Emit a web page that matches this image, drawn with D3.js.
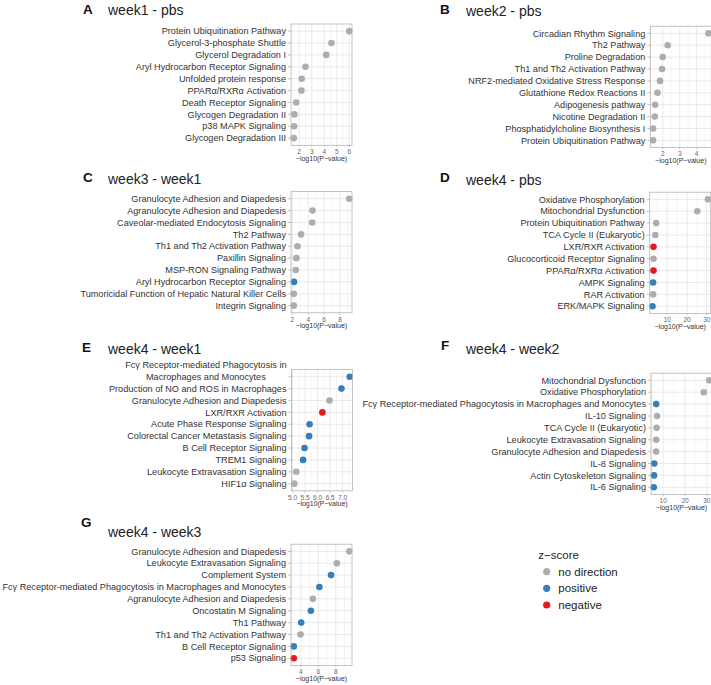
<!DOCTYPE html>
<html><head><meta charset="utf-8">
<script src="https://cdn.jsdelivr.net/npm/d3@7"></script>
<style>
body{margin:0;background:#fff;}
svg{font-family:"Liberation Sans",Arial,Helvetica,sans-serif;}
</style></head>
<body><svg id="chart" width="711" height="685"></svg>
<script>
// ---------- data ----------
const termsA = ["Protein Ubiquitination Pathway","Glycerol-3-phosphate Shuttle","Glycerol Degradation I","Aryl Hydrocarbon Receptor Signaling","Unfolded protein response","PPARα/RXRα Activation","Death Receptor Signaling","Glycogen Degradation II","p38 MAPK Signaling","Glycogen Degradation III"];
const logpA  = [5.99,4.57,4.16,2.5,2.2,2.18,1.76,1.62,1.6,1.57];
const zA     = ["none","none","none","none","none","none","none","none","none","none"];
const ticksA = ["2","3","4","5","6"];

const termsB = ["Circadian Rhythm Signaling","Th2 Pathway","Proline Degradation","Th1 and Th2 Activation Pathway","NRF2-mediated Oxidative Stress Response","Glutathione Redox Reactions II","Adipogenesis pathway","Nicotine Degradation II","Phosphatidylcholine Biosynthesis I","Protein Ubiquitination Pathway"];
const logpB  = [4.7,2.29,2.0,1.96,1.84,1.69,1.55,1.53,1.43,1.43];
const zB     = ["none","none","none","none","none","none","none","none","none","none"];
const ticksB = ["2","3","4"];

const termsC = ["Granulocyte Adhesion and Diapedesis","Agranulocyte Adhesion and Diapedesis","Caveolar-mediated Endocytosis Signaling","Th2 Pathway","Th1 and Th2 Activation Pathway","Paxillin Signaling","MSP-RON Signaling Pathway","Aryl Hydrocarbon Receptor Signaling","Tumoricidal Function of Hepatic Natural Killer Cells","Integrin Signaling"];
const logpC  = [9.17,4.53,4.5,3.09,2.63,2.5,2.42,2.2,2.17,2.17];
const zC     = ["none","none","none","none","none","none","none","positive","none","none"];
const ticksC = ["2","4","6","8"];

const termsD = ["Oxidative Phosphorylation","Mitochondrial Dysfunction","Protein Ubiquitination Pathway","TCA Cycle II (Eukaryotic)","LXR/RXR Activation","Glucocorticoid Receptor Signaling","PPARα/RXRα Activation","AMPK Signaling","RAR Activation","ERK/MAPK Signaling"];
const logpD  = [30.6,25.2,4.4,3.9,3.0,3.0,3.0,2.8,2.8,2.5];
const zD     = ["none","none","none","none","negative","none","negative","positive","none","positive"];
const ticksD = ["10","20","30"];

const termsE = ["Fcγ Receptor-mediated Phagocytosis in\nMacrophages and Monocytes","Production of NO and ROS in Macrophages","Granulocyte Adhesion and Diapedesis","LXR/RXR Activation","Acute Phase Response Signaling","Colorectal Cancer Metastasis Signaling","B Cell Receptor Signaling","TREM1 Signaling","Leukocyte Extravasation Signaling","HIF1α Signaling"];
const logpE  = [7.28,6.95,6.47,6.19,5.68,5.66,5.48,5.42,5.15,5.07];
const zE     = ["positive","positive","none","negative","positive","positive","positive","positive","none","none"];
const ticksE = ["5.0","5.5","6.0","6.5","7.0"];

const termsF = ["Mitochondrial Dysfunction","Oxidative Phosphorylation","Fcγ Receptor-mediated Phagocytosis in Macrophages and Monocytes","IL-10 Signaling","TCA Cycle II (Eukaryotic)","Leukocyte Extravasation Signaling","Granulocyte Adhesion and Diapedesis","IL-8 Signaling","Actin Cytoskeleton Signaling","IL-6 Signaling"];
const logpF  = [31.1,28.6,6.8,7.2,7.0,6.8,6.8,5.9,5.8,5.7];
const zF     = ["none","none","positive","none","none","none","none","positive","positive","positive"];
const ticksF = ["10","20","30"];

const termsG = ["Granulocyte Adhesion and Diapedesis","Leukocyte Extravasation Signaling","Complement System","Fcγ Receptor-mediated Phagocytosis in Macrophages and Monocytes","Agranulocyte Adhesion and Diapedesis","Oncostatin M Signaling","Th1 Pathway","Th1 and Th2 Activation Pathway","B Cell Receptor Signaling","p53 Signaling"];
const logpG  = [9.54,8.12,7.46,6.12,5.38,5.15,4.04,3.96,3.19,3.19];
const zG     = ["none","none","positive","positive","none","positive","positive","none","positive","negative"];
const ticksG = ["4","6","8"];

const panelLetters = ["A","B","C","D","E","F","G"];
const panelTitles  = ["week1 - pbs","week2 - pbs","week3 - week1","week4 - pbs","week4 - week1","week4 - week2","week4 - week3"];
const zKeys   = ["none","positive","negative"];
const zLabels = ["no direction","positive","negative"];
const xTitle  = "−log10(P−value)";
const legendTitle = "z−score";

// ---------- layout / style ----------
const colors = {none:"#ADADAD", positive:"#377EB8", negative:"#E41A1C"};
const layout = [
  {x0:291,   y0:24,    y1:145.3, lx:83,  ly:14,    tx:108, ty:15},
  {x0:650.3, y0:26.2,  y1:147.5, lx:440, ly:13.5,  tx:466, ty:15.7},
  {x0:291,   y0:191.6, y1:312.8, lx:83,  ly:181.7, tx:108, ty:184},
  {x0:649.7, y0:192.2, y1:313.4, lx:440, ly:182.3, tx:466, ty:185},
  {x0:291.5, y0:369.6, y1:490.8, lx:82,  ly:351.7, tx:108, ty:354},
  {x0:651,   y0:373.2, y1:494.4, lx:441, ly:350,   tx:466, ty:354},
  {x0:291,   y0:544.2, y1:665.4, lx:81,  ly:526.7, tx:108, ty:536.7}
];
const panels = [
  {terms:termsA, logp:logpA, z:zA, ticks:ticksA},
  {terms:termsB, logp:logpB, z:zB, ticks:ticksB},
  {terms:termsC, logp:logpC, z:zC, ticks:ticksC},
  {terms:termsD, logp:logpD, z:zD, ticks:ticksD},
  {terms:termsE, logp:logpE, z:zE, ticks:ticksE},
  {terms:termsF, logp:logpF, z:zF, ticks:ticksF},
  {terms:termsG, logp:logpG, z:zG, ticks:ticksG}
];
const PW = 61;

const svg = d3.select("#chart");

panels.forEach((p, i) => {
  const L = layout[i];
  const mn = d3.min(p.logp), mx = d3.max(p.logp), R = mx - mn;
  const dom = [mn - 0.05*R, mx + 0.05*R];
  const x = d3.scaleLinear().domain(dom).range([L.x0, L.x0 + PW]);
  const yBand = d3.scalePoint().domain(p.terms.map((t,k)=>k)).range([L.y0, L.y1]).padding(0.6);
  const g = svg.append("g");
  const tickVals = p.ticks.map(Number);
  const step = tickVals.length > 1 ? tickVals[1]-tickVals[0] : 1;
  const minor = [];
  for (let v = tickVals[0] - step/2 - step*10; v <= dom[1]; v += step) {
    if (v >= dom[0] && v <= dom[1]) minor.push(v);
  }
  g.append("rect").attr("x",L.x0).attr("y",L.y0).attr("width",PW).attr("height",L.y1-L.y0).attr("fill","#fff");
  g.selectAll(".mn").data(minor).enter().append("line")
    .attr("x1",d=>x(d)).attr("x2",d=>x(d)).attr("y1",L.y0).attr("y2",L.y1)
    .attr("stroke","#EBEBEB").attr("stroke-width",0.45);
  g.selectAll(".mj").data(tickVals).enter().append("line")
    .attr("x1",d=>x(d)).attr("x2",d=>x(d)).attr("y1",L.y0).attr("y2",L.y1)
    .attr("stroke","#DEDEDE").attr("stroke-width",0.65);
  g.selectAll(".gy").data(p.terms.map((t,k)=>k)).enter().append("line")
    .attr("x1",L.x0).attr("x2",L.x0+PW).attr("y1",d=>yBand(d)).attr("y2",d=>yBand(d))
    .attr("stroke","#DEDEDE").attr("stroke-width",0.65);
  g.selectAll("circle").data(p.logp).enter().append("circle")
    .attr("cx",d=>x(d)).attr("cy",(d,k)=>yBand(k)).attr("r",3.3)
    .attr("fill",(d,k)=>colors[p.z[k]]);
  g.append("rect").attr("x",L.x0).attr("y",L.y0).attr("width",PW).attr("height",L.y1-L.y0)
    .attr("fill","none").attr("stroke","#B3B3B3").attr("stroke-width",0.8);
  p.terms.forEach((t,k)=>{
    const yy = yBand(k);
    g.append("line").attr("x1",L.x0-3).attr("x2",L.x0).attr("y1",yy).attr("y2",yy)
      .attr("stroke","#A8A8A8").attr("stroke-width",0.7);
    const lines = t.split("\n");
    if (lines.length === 1) {
      g.append("text").attr("x",L.x0-5).attr("y",yy).attr("dy","0.35em")
        .attr("text-anchor","end").attr("font-size",9.15).attr("fill","#333").text(t);
    } else {
      const t1 = g.append("text").attr("x",L.x0-5).attr("y",yy-12).attr("dy","0.35em")
        .attr("text-anchor","end").attr("font-size",9.15).attr("fill","#333").text(lines[0]);
      const w = t1.node().getComputedTextLength();
      g.append("text").attr("x",L.x0-5-w/2).attr("y",yy).attr("dy","0.35em")
        .attr("text-anchor","middle").attr("font-size",9.15).attr("fill","#333").text(lines[1]);
    }
  });
  p.ticks.forEach((lab)=>{
    const v = Number(lab);
    g.append("line").attr("x1",x(v)).attr("x2",x(v)).attr("y1",L.y1).attr("y2",L.y1+2)
      .attr("stroke","#A8A8A8").attr("stroke-width",0.6);
    g.append("text").attr("x",x(v)).attr("y",L.y1+6.7).attr("dy","0.35em")
      .attr("text-anchor","middle").attr("font-size",6.5).attr("fill","#666").text(lab);
  });
  g.append("text").attr("x",L.x0+PW/2).attr("y",L.y1+12.8).attr("dy","0.35em")
    .attr("text-anchor","middle").attr("font-size",7).attr("fill","#333").text(xTitle);
  g.append("text").attr("x",L.lx).attr("y",L.ly).attr("font-size",13.5).attr("font-weight","bold")
    .attr("fill","#111").text(panelLetters[i]);
  g.append("text").attr("x",L.tx).attr("y",L.ty).attr("font-size",14).attr("fill","#222").text(panelTitles[i]);
});

// legend
const lg = svg.append("g");
lg.append("text").attr("x",538.3).attr("y",559).attr("font-size",11.5).attr("fill","#222").text(legendTitle);
zKeys.forEach((k,j)=>{
  const yy = 571.7 + j*16.65;
  lg.append("circle").attr("cx",546.7).attr("cy",yy).attr("r",3.6).attr("fill",colors[k]);
  lg.append("text").attr("x",558.3).attr("y",yy).attr("dy","0.35em").attr("font-size",11.5)
    .attr("fill","#222").text(zLabels[j]);
});
</script></body></html>
